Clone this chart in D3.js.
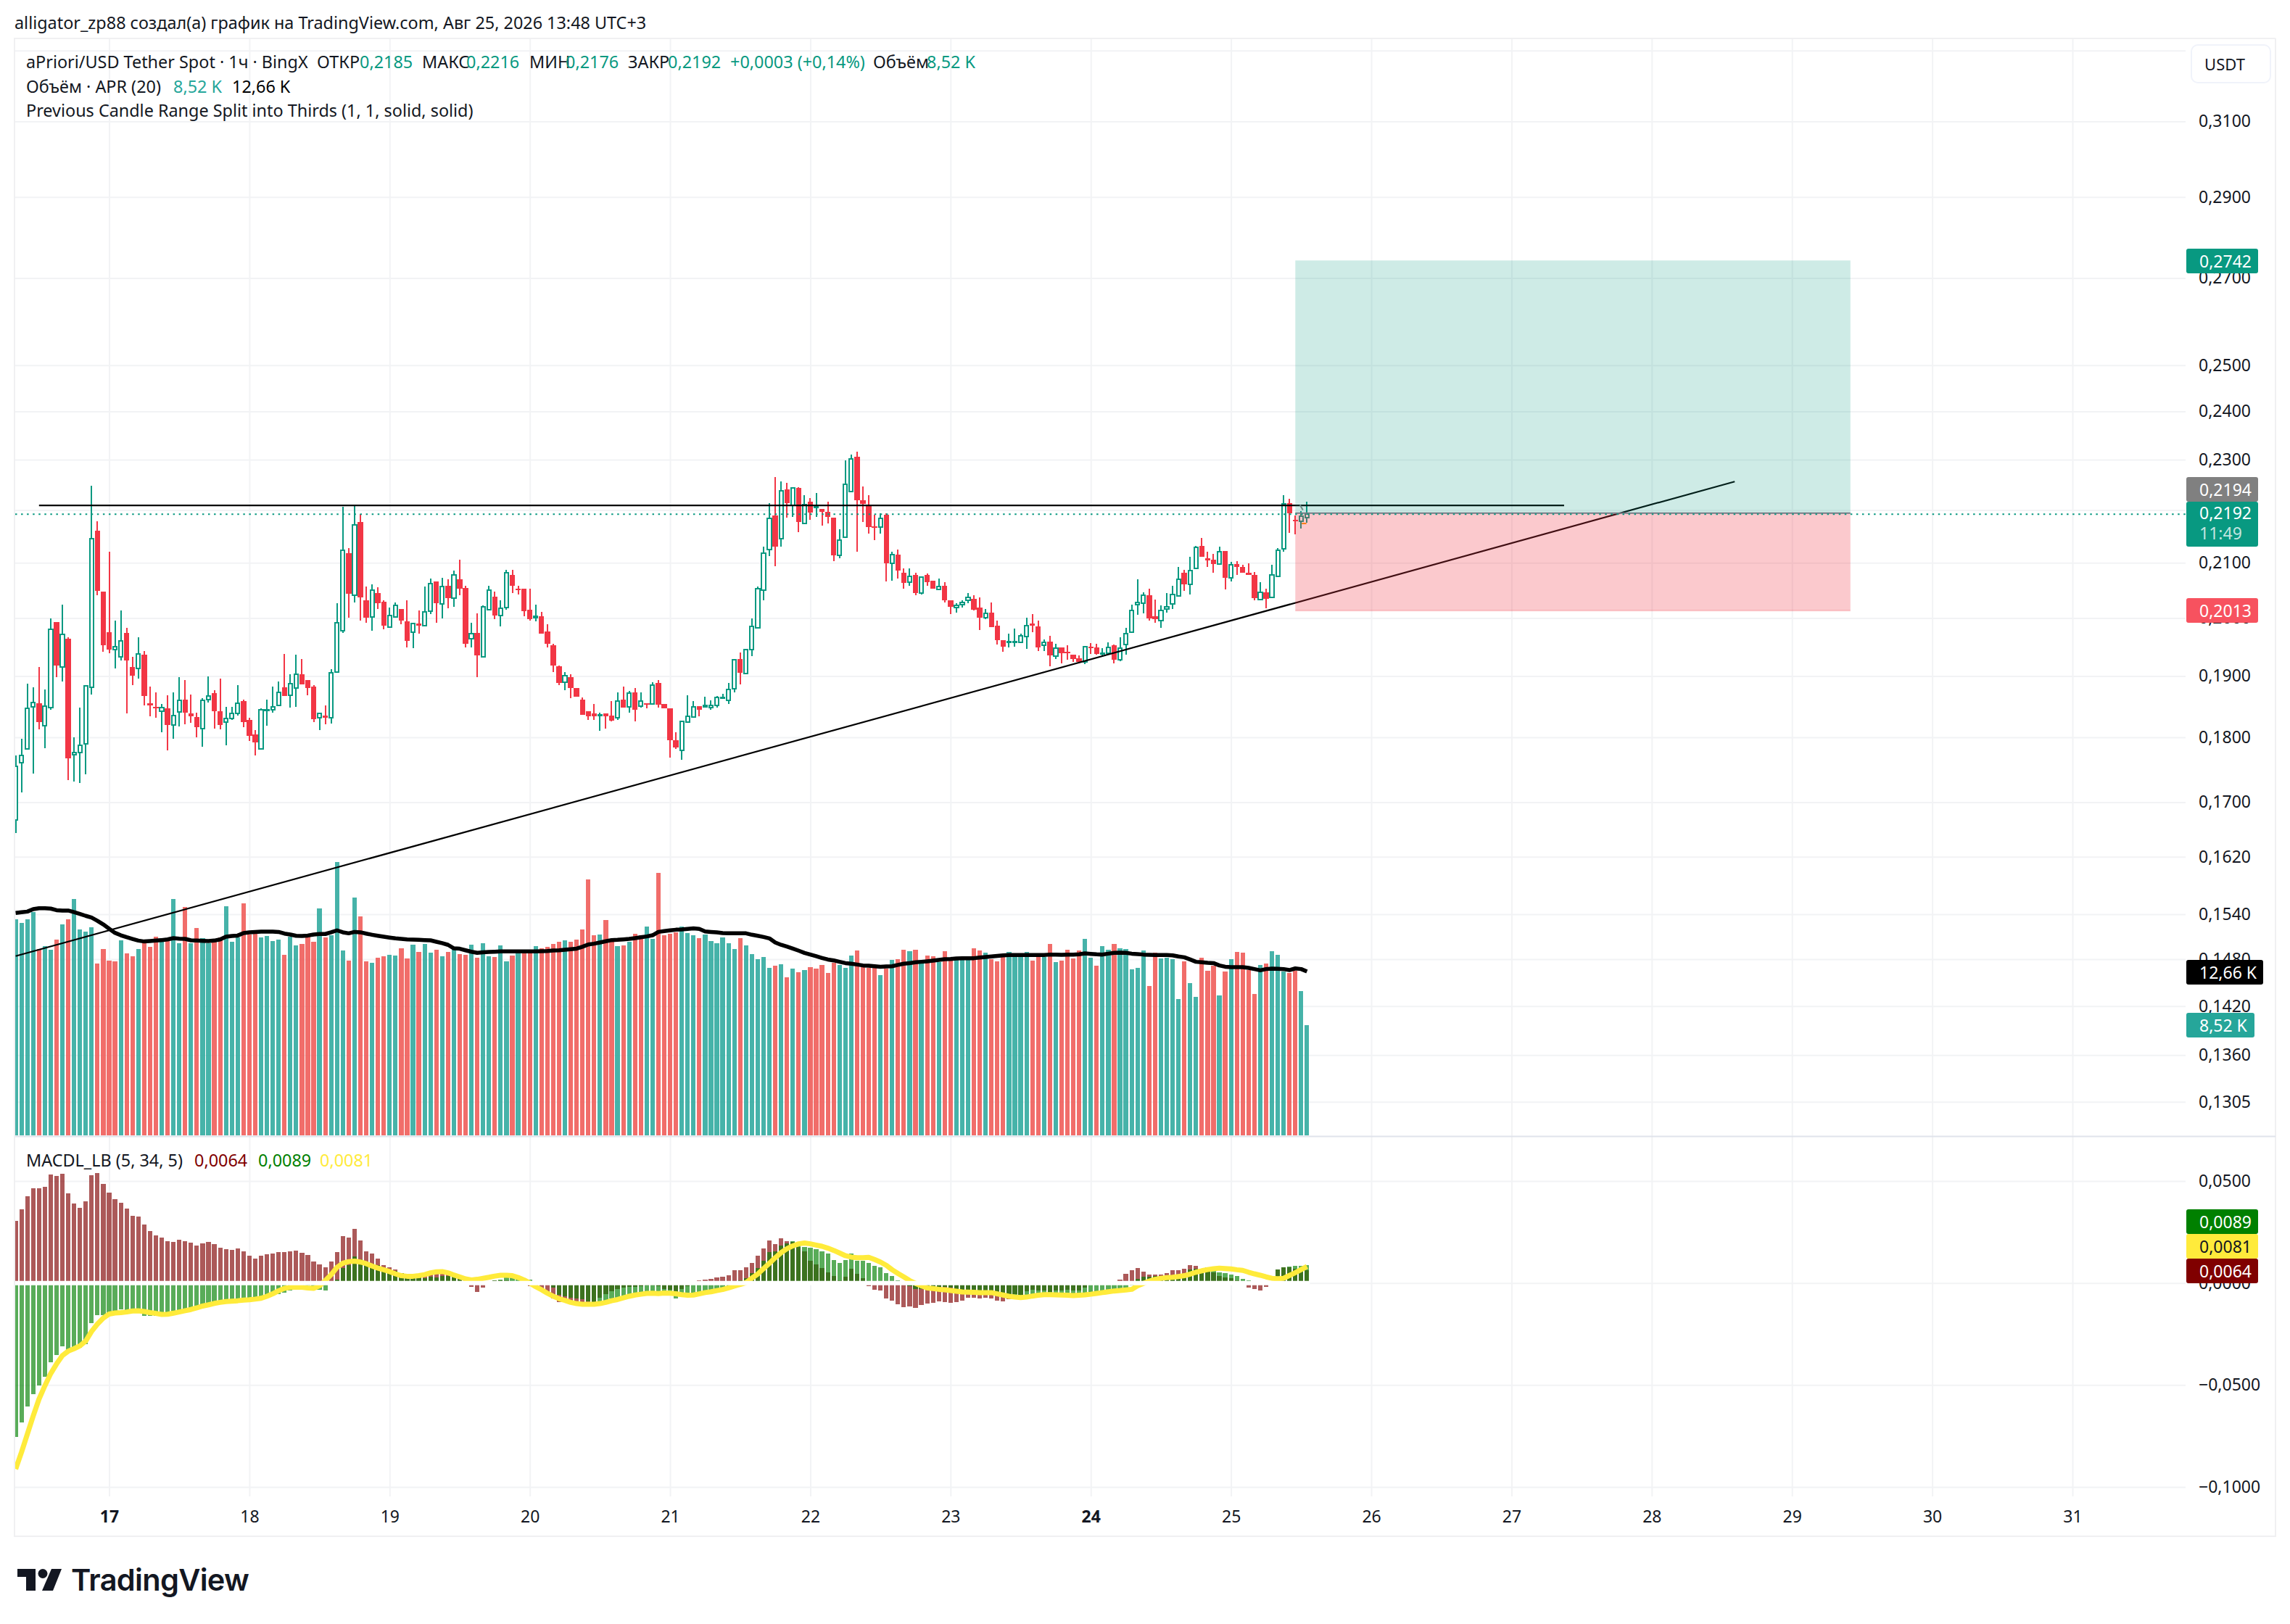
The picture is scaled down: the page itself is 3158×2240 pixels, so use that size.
<!DOCTYPE html>
<html><head><meta charset="utf-8"><title>aPriori/USDT</title>
<script src="https://d3js.org/d3.v7.min.js"></script>
<style>html,body{margin:0;padding:0;background:#fff;overflow:hidden}svg{display:block}</style>
</head><body><svg id="c" width="3158" height="2240" viewBox="0 0 3158 2240"></svg>
<script>
// ---- Candles, in ten-thousandths of USDT, one value per hourly bar
const opens=[1673,1760,1782,1849,1855,1819,1848,1993,1915,1964,
1773,1776,1790,1881,2160,2047,1975,1945,1933,1974,
1915,1913,1936,1855,1849,1842,1847,1820,1841,1861,
1839,1833,1814,1861,1872,1842,1824,1830,1838,1859,
1828,1805,1782,1843,1844,1851,1881,1868,1880,1903,
1893,1883,1831,1835,1832,1907,1978,2118,2041,2177,
2032,2002,2045,2029,1984,2002,2016,1994,1975,1990,
1987,2012,2066,2025,2058,2035,2070,2054,1964,1974,
1932,2015,2038,2005,2019,2078,2052,2052,2015,2000,
2003,1977,1952,1917,1890,1898,1880,1861,1842,1839,
1835,1838,1835,1831,1861,1849,1873,1850,1855,1854,
1889,1854,1847,1796,1780,1825,1833,1850,1849,1848,
1851,1863,1860,1879,1929,1904,1945,1983,2050,2124,
2190,2145,2240,2209,2243,2174,2216,2205,2202,2196,
2185,2114,2148,2236,2306,2219,2209,2168,2167,2191,
2099,2115,2081,2064,2077,2045,2077,2067,2051,2058,
2032,2019,2024,2032,2034,2019,2000,2010,1986,1961,
1958,1958,1957,1968,1990,1985,1952,1959,1934,1949,
1941,1936,1930,1924,1950,1949,1938,1939,1952,1928,
1954,1975,2024,2026,2041,2003,1995,2016,2025,2039,
2081,2060,2090,2131,2108,2105,2097,2122,2072,2097,
2092,2082,2077,2033,2046,2037,2075,2126,2213,2181,
2178,2185];
const highs=[1772,1798,1887,1881,1915,1878,1999,1993,2024,1966,
1800,1848,1884,2247,2178,2047,2121,1996,2013,1983,
1932,1966,1942,1883,1873,1854,1868,1873,1898,1893,
1869,1840,1863,1899,1877,1896,1849,1849,1885,1861,
1831,1812,1847,1861,1883,1891,1938,1903,1936,1929,
1893,1885,1838,1851,1912,2026,2206,2127,2210,2192,
2056,2060,2055,2032,2018,2028,2016,2032,1990,2013,
2056,2071,2066,2072,2070,2085,2105,2058,1991,2008,
2022,2058,2047,2032,2087,2087,2058,2052,2052,2024,
2011,1989,1955,1918,1907,1903,1880,1865,1842,1854,
1840,1838,1859,1873,1883,1875,1880,1873,1855,1890,
1893,1854,1847,1808,1827,1868,1859,1850,1866,1860,
1867,1870,1889,1928,1940,1945,1999,2056,2130,2213,
2265,2256,2253,2245,2245,2229,2223,2233,2202,2216,
2185,2163,2299,2310,2316,2246,2229,2191,2194,2194,
2121,2125,2090,2090,2082,2073,2080,2067,2071,2064,
2032,2026,2032,2045,2040,2037,2016,2028,1995,1961,
1973,1981,1973,2000,2007,1996,1963,1969,1955,1949,
1953,1936,1935,1950,1956,1955,1947,1958,1954,1966,
1983,2024,2069,2046,2052,2033,2022,2045,2058,2092,
2087,2111,2131,2146,2120,2116,2130,2122,2101,2103,
2096,2099,2083,2064,2052,2096,2127,2229,2222,2190,
2198,2216];
const lows=[1654,1715,1782,1743,1813,1783,1844,1898,1891,1733,
1731,1729,1742,1869,2041,1941,1939,1913,1927,1838,
1885,1896,1851,1834,1831,1808,1780,1798,1818,1821,
1823,1800,1785,1856,1814,1813,1788,1828,1835,1816,
1794,1771,1782,1819,1840,1851,1867,1848,1849,1886,
1868,1824,1812,1821,1822,1907,1974,2000,2028,1996,
1991,1978,2016,1980,1984,2002,1989,1949,1947,1973,
1987,2007,1991,1999,2017,2020,2041,1949,1949,1898,
1932,2015,1998,1985,2015,2045,2042,2003,1996,1994,
1973,1949,1907,1885,1877,1863,1866,1836,1828,1828,
1810,1814,1826,1828,1848,1840,1826,1848,1847,1854,
1848,1847,1768,1782,1765,1825,1833,1834,1849,1845,
1848,1863,1854,1873,1886,1904,1934,1983,2032,2112,
2094,2130,2185,2187,2157,2173,2181,2187,2170,2174,
2103,2108,2146,2236,2121,2177,2155,2142,2155,2066,
2067,2071,2052,2058,2040,2042,2058,2052,2050,2028,
2007,2010,2019,2026,2014,1979,1998,1984,1954,1941,
1949,1950,1957,1946,1975,1943,1943,1917,1929,1921,
1928,1924,1922,1920,1938,1936,1933,1939,1922,1925,
1936,1975,2006,2008,1996,1991,1983,2010,2016,2038,
2048,2042,2090,2111,2092,2082,2097,2051,2065,2078,
2082,2078,2032,2033,2017,2035,2074,2121,2156,2153,
2165,2176];
const closes=[1755,1771,1847,1856,1824,1850,1980,1918,1971,1767,
1776,1788,1884,2145,2049,1953,1945,1950,1960,1926,
1901,1938,1867,1851,1847,1848,1820,1835,1860,1840,
1834,1816,1860,1867,1842,1820,1830,1838,1855,1825,
1802,1792,1844,1845,1849,1873,1867,1887,1903,1886,
1880,1829,1838,1832,1905,1991,2123,2043,2171,2037,
2000,2050,2026,1986,2004,2022,1995,1960,1990,1986,
2011,2062,2026,2056,2035,2078,2052,1955,1973,1935,
2020,2050,2005,2017,2081,2058,2050,2012,1998,2003,
1973,1955,1918,1889,1901,1880,1866,1836,1834,1834,
1836,1834,1827,1859,1848,1872,1845,1859,1853,1885,
1853,1847,1796,1784,1826,1834,1849,1844,1851,1851,
1865,1865,1878,1928,1905,1945,1985,2052,2118,2184,
2130,2237,2213,2243,2177,2211,2195,2206,2196,2187,
2114,2143,2251,2302,2219,2212,2167,2166,2184,2099,
2115,2085,2063,2075,2045,2073,2064,2052,2056,2032,
2020,2022,2028,2037,2015,2000,2008,1984,1961,1950,
1959,1959,1969,1987,1987,1949,1958,1935,1948,1939,
1939,1929,1924,1950,1949,1938,1939,1949,1928,1948,
1973,2013,2028,2041,1999,1998,2013,2020,2042,2069,
2060,2086,2129,2111,2104,2097,2120,2072,2096,2092,
2082,2078,2035,2046,2034,2077,2123,2212,2194,2178,
2188,2192];
// ---- Volume, in thousands, and its 20-bar average
const volumes=[16.69,16.41,16.69,17.27,14.38,14.60,14.34,15.13,16.30,16.69,
18.26,15.91,15.74,16.08,13.28,14.40,13.50,13.45,15.07,14.06,
13.84,14.40,14.96,14.57,15.35,15.24,15.01,18.26,14.85,17.65,
14.85,16.02,15.24,14.85,15.18,15.29,17.70,14.96,15.28,17.93,
15.50,15.56,15.29,15.41,15.01,15.13,13.95,15.35,14.68,14.79,
15.37,14.96,17.53,15.28,15.46,21.12,14.29,13.50,18.38,16.92,
13.45,13.33,13.73,13.84,13.95,13.89,14.45,13.67,14.73,14.17,
14.79,14.12,14.34,13.84,14.17,14.53,14.01,13.95,14.73,13.73,
14.85,13.84,13.78,14.68,13.45,13.89,14.16,14.16,14.16,14.62,
14.45,14.57,14.79,14.96,15.07,14.96,15.13,15.91,19.78,15.46,
15.52,16.64,15.01,14.62,14.68,14.96,15.57,15.46,16.13,15.18,
20.28,15.46,15.57,15.69,16.12,15.63,15.46,15.24,15.52,15.01,
14.85,15.29,14.85,14.40,15.24,14.68,14.01,13.61,13.78,12.94,
13.11,13.22,12.21,12.89,12.61,12.77,13.00,12.89,13.17,12.55,
13.33,13.17,12.94,13.89,14.29,13.00,12.94,12.94,12.38,12.89,
13.56,13.61,14.34,14.23,14.34,13.31,13.89,13.84,13.41,14.23,
13.69,13.69,13.59,13.69,14.45,14.29,14.12,13.63,13.45,13.78,
14.17,13.97,13.97,14.17,13.50,13.78,13.78,14.79,13.39,13.50,
14.34,13.67,14.29,15.18,13.73,13.11,14.62,14.34,14.79,14.45,
14.40,12.83,12.94,14.29,11.54,14.12,13.67,13.73,13.61,10.53,
13.45,11.76,10.70,13.73,12.72,13.11,10.81,12.66,13.61,14.17,
14.12,12.75,10.92,13.17,13.28,14.23,13.95,12.66,12.57,12.72,
11.15,8.52];
const volumeSides=("ggggrggrgr"+"ggggrrrrgr"+"rgrrrgrggr"+"grggrrgggr"+"rrggggrggr"+"rrgrgggrgr"+"rgrrggrrgr"+"ggrgrgrrgr"+"ggrggrgrrg"+"rrrrgrrrrr"+"grrgrgrrgg"
+"rrrrgggrgg"+"ggggrggggg"+"rgrgrgrrrr"+"rgggrrrrgr"+"grrgrgrrgr"+"rgggrrgrrr"+"ggggrrgrgr"+"rrrggrggrg"+"ggggrrgggg"+"rggrrrgrgr"+"rrrgrgggrr"+"gg").split("");
const volumeAverage=[17.18,17.24,17.29,17.48,17.55,17.55,17.52,17.40,17.37,17.37,
17.25,17.11,16.96,16.83,16.58,16.30,15.97,15.65,15.46,15.31,
15.18,15.05,14.98,15.01,15.05,15.09,15.14,15.24,15.20,15.18,
15.07,15.05,15.03,15.01,15.05,15.14,15.35,15.41,15.44,15.63,
15.69,15.72,15.74,15.74,15.74,15.72,15.59,15.52,15.42,15.41,
15.44,15.52,15.56,15.56,15.69,15.84,15.69,15.61,15.72,15.69,
15.59,15.50,15.42,15.35,15.28,15.22,15.18,15.14,15.13,15.11,
15.09,15.07,14.96,14.85,14.72,14.45,14.42,14.30,14.19,14.10,
14.14,14.17,14.19,14.21,14.21,14.21,14.21,14.21,14.21,14.21,
14.23,14.25,14.29,14.30,14.34,14.38,14.43,14.57,14.75,14.81,
14.90,15.00,15.09,15.11,15.14,15.18,15.24,15.31,15.37,15.46,
15.72,15.78,15.84,15.89,15.91,15.95,15.99,15.95,15.76,15.72,
15.69,15.63,15.61,15.61,15.61,15.61,15.50,15.42,15.33,15.22,
14.90,14.72,14.58,14.43,14.27,14.10,13.97,13.84,13.71,13.59,
13.52,13.41,13.31,13.26,13.20,13.13,13.11,13.07,13.03,13.05,
13.07,13.17,13.26,13.31,13.37,13.41,13.45,13.50,13.56,13.61,
13.63,13.67,13.69,13.69,13.69,13.74,13.78,13.82,13.86,13.91,
13.93,13.93,13.93,13.93,13.93,13.93,13.93,13.97,13.97,13.95,
13.97,13.97,13.99,14.06,14.02,13.99,13.97,14.04,14.10,14.12,
14.10,14.04,14.01,13.97,13.95,13.93,13.93,13.93,13.91,13.82,
13.76,13.59,13.41,13.37,13.33,13.31,13.13,13.03,13.00,13.00,
13.00,12.94,12.85,12.75,12.85,12.89,12.87,12.85,12.77,12.90,
12.85,12.66];
// ---- MACDL_LB, in ten-thousandths
const macdMaroon=[306,363,427,466,466,473,533,526,537,441,
391,370,402,530,540,487,444,412,395,366,
331,327,288,256,235,224,206,203,213,206,
199,185,196,203,192,174,167,164,171,156,
135,121,135,142,146,153,153,156,160,149,
139,107,92,78,107,153,231,224,267,210,
156,146,121,89,77,65,47,30,36,30,
36,57,47,60,41,38,24,0,-20,-45,
-21,6,12,12,12,6,6,2,-14,-21,
-39,-53,-75,-92,-92,-96,-96,-107,-102,-100,
-71,-53,-41,-30,-21,-18,-18,-14,-12,-12,
-14,-30,-33,-47,-30,-14,-9,14,18,21,
28,32,39,64,64,78,100,135,171,210,
192,220,206,201,178,154,110,92,75,53,
36,12,32,71,46,25,-14,-32,-36,-75,
-85,-103,-117,-114,-121,-107,-100,-96,-89,-92,
-96,-92,-85,-71,-71,-75,-71,-75,-85,-89,
-81,-53,-57,-41,-33,-38,-38,-44,-36,-38,
-33,-36,-36,-21,0,0,0,0,0,18,
46,64,75,57,43,43,43,50,64,64,
71,89,85,65,59,53,36,26,24,12,
6,-21,-28,-36,-18,0,66,78,76,71,
65,64];
const macdGreen=[-754,-683,-604,-544,-501,-459,-388,-352,-309,-334,
-324,-316,-299,-196,-156,-156,-153,-142,-130,-136,
-142,-148,-160,-160,-160,-154,-148,-142,-140,-136,
-133,-130,-119,-113,-104,-100,-95,-89,-85,-81,
-77,-73,-71,-69,-59,-53,-47,-36,-24,-14,
-12,-24,-33,-36,0,18,75,89,132,117,
107,95,87,68,62,59,50,32,28,26,
24,30,27,33,36,39,39,30,14,-6,
-6,2,12,18,36,33,30,21,17,6,
0,-4,-24,-59,-65,-71,-77,-81,-89,-95,
-101,-95,-77,-81,-77,-71,-65,-59,-53,-47,
-47,-41,-53,-75,-59,-53,-53,-47,-41,-36,
-30,-24,-14,0,12,24,47,73,110,150,
156,185,196,206,190,178,174,167,156,146,
114,100,114,146,110,110,100,85,78,50,
36,14,0,-14,-28,-30,-30,-24,-18,-18,
-21,-30,-38,-44,-47,-47,-47,-47,-53,-59,
-59,-65,-71,-71,-65,-59,-53,-53,-57,-59,
-59,-59,-59,-59,-53,-50,-47,-45,-41,-36,
-24,-12,21,30,30,36,36,36,38,21,
30,65,71,65,77,77,53,47,41,36,
21,12,6,6,6,0,66,78,82,85,
83,89];
const macdSignal=[-912,-830,-741,-652,-569,-504,-444,-397,-356,-334,
-322,-308,-284,-237,-201,-172,-152,-147,-145,-142,
-137,-136,-140,-145,-149,-154,-153,-148,-142,-136,
-130,-122,-113,-107,-100,-95,-91,-89,-87,-84,
-82,-79,-75,-65,-53,-38,-26,-21,-20,-21,
-24,-26,-14,12,41,77,97,105,107,103,
95,83,73,65,56,45,36,33,33,36,
41,50,55,56,50,39,30,20,15,18,
23,28,34,38,38,36,27,15,0,-18,
-33,-50,-65,-77,-85,-95,-101,-104,-104,-104,
-101,-95,-87,-81,-73,-65,-59,-55,-51,-50,
-52,-49,-50,-53,-57,-60,-59,-53,-47,-43,
-37,-32,-24,-15,-7,2,24,44,71,97,
124,149,168,182,192,196,192,186,180,171,
160,147,134,127,124,124,126,115,103,87,
65,47,30,12,-2,-14,-24,-27,-31,-33,
-37,-40,-44,-45,-46,-47,-47,-47,-53,-59,
-65,-69,-71,-69,-64,-60,-57,-57,-58,-59,
-60,-62,-60,-58,-55,-51,-47,-43,-39,-37,
-34,-31,-14,-2,9,18,23,26,28,32,
36,44,53,60,66,70,73,71,69,65,
62,53,45,38,30,23,21,23,37,51,
66,81];
// ---- Axis labels and drawing levels
const priceTicks=[0.33,0.31,0.29,0.27,0.25,0.24,0.23,0.22,0.21,0.20,0.19,0.18,0.17,0.162,0.154,0.148,0.142,0.136,0.1305];
const macdTicks=[0.05,0,-0.05,-0.1];
const dayLabels=[17,18,19,20,21,22,23,24,25,26,27,28,29,30,31];
const boldDays=[17,24];
const resistance={price:0.2209,from:4,to:265};
const trend={fromBar:0,fromPrice:0.1484,toBar:294.2,toPrice:0.2256};
const position={fromBar:219,toBar:314,target:0.2742,entry:0.2194,stop:0.2013};
const lastPrice=0.2192;

// ---- Scales
const C={g:"#089981",r:"#f23645",vg:"#26a69a",vr:"#ef5350",grid:"#f2f3f5",ink:"#131722",border:"#f0f0f2"};
const FONT='"Noto Sans",sans-serif';
const pane={l:21,r:3014,t:54,b:1567,mt:1568,mb:2064,right:3138,bottom:2119};
const n=closes.length, bars=d3.range(n);
const x=d3.scaleLinear().domain([16,352]).range([150.5,2858]);
const y=d3.scaleLog().domain([0.23,0.18]).range([634,1017.1]);
const yVol=d3.scaleLinear().domain([0,20]).range([1566,1209]);
const yMacd=d3.scaleLinear().domain([-0.1,0.05]).range([2051,1629]);
const pip=v=>v/1e4;
const loc=d3.formatLocale({decimal:",",thousands:" ",grouping:[3],currency:["",""],minus:"\u2212"});
const f4=loc.format(".4f");

const svg=d3.select("#c").style("font-family",FONT);
svg.append("rect").attr("width",3158).attr("height",2240).attr("fill","#fff");
const defs=svg.append("defs");
defs.append("clipPath").attr("id","main").append("rect").attr("x",pane.l).attr("y",pane.t).attr("width",pane.r-pane.l).attr("height",pane.b-pane.t);
defs.append("clipPath").attr("id","macd").append("rect").attr("x",pane.l).attr("y",pane.mt).attr("width",pane.r-pane.l).attr("height",pane.mb-pane.mt);

// ---- Grids
function hGrid(scale,ticks){
  const g=svg.append("g").attr("transform",`translate(${pane.r},0)`)
    .call(d3.axisLeft(scale).tickValues(ticks).tickSize(pane.r-pane.l).tickFormat(""));
  g.select(".domain").remove();
  g.selectAll("line").attr("stroke",C.grid).attr("stroke-width",2);
}
hGrid(y,priceTicks);
hGrid(yMacd,macdTicks);
const vg=svg.append("g").attr("transform",`translate(0,${pane.t})`)
  .call(d3.axisBottom(x).tickValues(dayLabels.map((d,k)=>16+24*k)).tickSize(pane.mb-pane.t).tickFormat(""));
vg.select(".domain").remove();
vg.selectAll("line").attr("stroke",C.grid).attr("stroke-width",2);

// ---- Frame
const frame=svg.append("g").attr("stroke",C.border).attr("stroke-width",2).attr("fill","none");
frame.append("path").attr("d",d3.line()([[pane.right,pane.t-1],[20,pane.t-1],[20,pane.bottom],[pane.right,pane.bottom],[pane.right,pane.t-1]]));
svg.append("line").attr("x1",pane.l).attr("x2",pane.right).attr("y1",1567.5).attr("y2",1567.5).attr("stroke","#e0e3eb").attr("stroke-width",2);

// ---- Main pane
const main=svg.append("g").attr("clip-path","url(#main)");
const volW=6.2;
main.append("g").attr("shape-rendering","crispEdges").selectAll("rect").data(bars).join("rect")
  .attr("x",i=>x(i)-volW/2).attr("width",volW)
  .attr("y",i=>yVol(volumes[i])).attr("height",i=>yVol(0)-yVol(volumes[i]))
  .attr("fill",i=>volumeSides[i]==="g"?C.vg:C.vr).attr("fill-opacity",.85);
main.append("path").datum(bars).attr("fill","none").attr("stroke","#000").attr("stroke-width",5.5).attr("stroke-linejoin","round")
  .attr("d",d3.line().x(i=>x(i)).y(i=>yVol(volumeAverage[i])));
const up=i=>closes[i]>=opens[i];
const col=i=>up(i)?C.g:C.r;
const cg=main.append("g").attr("shape-rendering","crispEdges");
cg.selectAll("line").data(bars).join("line")
  .attr("x1",i=>x(i)).attr("x2",i=>x(i))
  .attr("y1",i=>y(pip(highs[i]))).attr("y2",i=>y(pip(lows[i])))
  .attr("stroke",col).attr("stroke-width",2);
cg.selectAll("rect").data(bars).join("rect")
  .attr("x",i=>up(i)?x(i)-2.6:x(i)-3.7).attr("width",i=>up(i)?5.2:7.4)
  .attr("y",i=>y(pip(Math.max(opens[i],closes[i]))))
  .attr("height",i=>Math.max(Math.abs(y(pip(opens[i]))-y(pip(closes[i]))),up(i)?1:2))
  .attr("fill",i=>up(i)?"#fff":C.r).attr("stroke",i=>up(i)?C.g:"none").attr("stroke-width",2);
const tr=d3.line().x(d=>x(d[0])).y(d=>y(d[1]));
main.append("path").attr("fill","none").attr("stroke","#000").attr("stroke-width",2.2)
  .attr("d",tr([[trend.fromBar,trend.fromPrice],[trend.toBar,trend.toPrice]]));
main.append("path").attr("fill","none").attr("stroke","#000").attr("stroke-width",2.2)
  .attr("d",tr([[resistance.from,resistance.price],[resistance.to,resistance.price]]));
main.append("path").attr("fill","none").attr("stroke","#ff9800").attr("stroke-width",2)
  .attr("d",tr([[220.1,0.2174],[220.9,0.2174]]));
main.append("path").attr("fill","none").attr("stroke","#888").attr("stroke-width",2)
  .attr("d",tr([[219.8,0.2210],[220.3,0.2200]]));
// position tool
const bx=x(position.fromBar), bw=x(position.toBar)-bx;
main.append("rect").attr("x",bx).attr("width",bw).attr("y",y(position.target)).attr("height",y(position.entry)-y(position.target)).attr("fill","#089981").attr("fill-opacity",.2);
main.append("rect").attr("x",bx).attr("width",bw).attr("y",y(position.entry)).attr("height",y(position.stop)-y(position.entry)).attr("fill","#f23645").attr("fill-opacity",.27);
main.append("path").attr("fill","none").attr("stroke","#787b86").attr("stroke-width",2)
  .attr("d",tr([[position.fromBar,position.entry],[position.toBar,position.entry]]));
main.append("path").attr("fill","none").attr("stroke","#f23645").attr("stroke-opacity",.2).attr("stroke-width",2)
  .attr("d",tr([[position.fromBar,position.stop],[position.toBar,position.stop]]));
// last price line
svg.append("line").attr("x1",pane.l).attr("x2",pane.r).attr("y1",y(lastPrice)).attr("y2",y(lastPrice))
  .attr("stroke",C.g).attr("stroke-width",2).attr("stroke-dasharray","2.5 5.56");

// ---- MACD pane
const mp=svg.append("g").attr("clip-path","url(#macd)");
function hist(arr,color){
  mp.append("g").attr("shape-rendering","crispEdges").selectAll("rect").data(bars).join("rect")
    .attr("x",i=>x(i)-volW/2).attr("width",volW)
    .attr("y",i=>Math.min(yMacd(0),yMacd(pip(arr[i]))))
    .attr("height",i=>Math.abs(yMacd(0)-yMacd(pip(arr[i]))))
    .attr("fill",color).attr("fill-opacity",.65);
}
hist(macdMaroon,"#800000");
hist(macdGreen,"#008000");
mp.append("path").datum(bars).attr("fill","none").attr("stroke","#ffeb3b").attr("stroke-width",7).attr("stroke-linejoin","round")
  .attr("d",d3.line().x(i=>x(i)).y(i=>yMacd(pip(macdSignal[i]))));
mp.append("line").attr("x1",pane.l).attr("x2",x(n-1)+4).attr("y1",yMacd(0)).attr("y2",yMacd(0)).attr("stroke","#fff").attr("stroke-width",6);

// ---- Axes
const AX=23, LEG=23.4;
function styleAxis(g){g.select(".domain").remove();g.selectAll("text").attr("fill",C.ink).attr("font-size",AX).attr("font-family",FONT);}
svg.append("g").attr("transform",`translate(${pane.r},0)`)
  .call(d3.axisRight(y).tickValues(priceTicks).tickSize(0).tickPadding(18).tickFormat(f4)).call(styleAxis);
svg.append("g").attr("transform",`translate(${pane.r},0)`)
  .call(d3.axisRight(yMacd).tickValues(macdTicks).tickSize(0).tickPadding(18).tickFormat(f4)).call(styleAxis);
const ta=svg.append("g").attr("transform",`translate(0,${pane.mb})`)
  .call(d3.axisBottom(x).tickValues(dayLabels.map((d,k)=>16+24*k)).tickSize(0).tickPadding(20).tickFormat((d,k)=>dayLabels[k])).call(styleAxis);
ta.selectAll("text").attr("font-weight",(d,k)=>boldDays.includes(dayLabels[k])?700:400);

// ---- Text helper
function T(s,px,py,fill,opt={}){
  return svg.append("text").attr("x",px).attr("y",py).attr("fill",fill||C.ink)
    .attr("font-size",opt.size||AX).attr("font-weight",opt.w||400).attr("text-anchor",opt.a||"start")
    .attr("dominant-baseline","central").attr("fill-opacity",opt.o||1).text(s);
}
const L=(s,px,py,fill)=>T(s,px,py,fill,{size:LEG});
// ---- Badges
function badge(x1,x2,y1,y2,fill){
  svg.append("rect").attr("x",x1).attr("y",y1).attr("width",x2-x1).attr("height",y2-y1).attr("rx",3).attr("fill",fill);
}
const bText=(s,py,fill,o)=>T(s,3033,py,fill,{o});
svg.append("rect").attr("x",3022).attr("y",62).attr("width",109).attr("height",52).attr("rx",9).attr("fill","#fff").attr("stroke","#f0f3fa").attr("stroke-width",2);
T("USDT",3068,88,C.ink,{a:"middle",size:22});
badge(3015,3114,343,377,"#089981"); bText(f4(position.target),360,"#fff");
badge(3015,3114,658,692,"#808080"); bText(f4(position.entry),675,"#fff");
badge(3015,3114,692,754,"#089981"); bText(f4(lastPrice),707,"#fff"); bText("11:49",735,"#fff",.75);
badge(3015,3114,825,859,"#f7525f"); bText(f4(position.stop),842,"#fff");
badge(3015,3121,1324,1358,"#000"); bText("12,66 K",1341,"#fff");
badge(3015,3109,1397,1431,"#26a69a"); bText("8,52 K",1414,"#fff");
badge(3015,3114,1668,1702,"#008000"); bText("0,0089",1685,"#fff");
badge(3015,3114,1702,1736,"#ffeb3b"); bText("0,0081",1719,"#131722");
badge(3015,3114,1736,1770,"#800000"); bText("0,0064",1753,"#fff");

// ---- Legends
L("alligator_zp88 создал(а) график на TradingView.com, Авг 25, 2026 13:48 UTC+3",20,31);
const G=C.g;
[["aPriori/USD Tether Spot · 1ч · BingX",36],["ОТКР",437],["МАКС",582],["МИН",730],["ЗАКР",866],["Объём",1204]].forEach(d=>L(d[0],d[1],85));
[["0,2185",496],["0,2216",643],["0,2176",780],["0,2192",921],["+0,0003 (+0,14%)",1007],["8,52 K",1278]].forEach(d=>L(d[0],d[1],85,G));
L("Объём · APR (20)",36,119); L("8,52 K",239,119,"#26a69a"); L("12,66 K",320,119,"#000");
L("Previous Candle Range Split into Thirds (1, 1, solid, solid)",36,152);
L("MACDL_LB (5, 34, 5)",36,1600); L("0,0064",268,1600,"#800000"); L("0,0089",356,1600,"#008000"); L("0,0081",441,1600,"#ffeb3b");

// ---- Logo
const logo=svg.append("g").attr("fill","#131722");
logo.append("path").attr("d","M24 2164H49V2194H36V2175H24Z");
logo.append("circle").attr("cx",59).attr("cy",2170.5).attr("r",6.5);
logo.append("path").attr("d","M71 2164H85L73 2194H58Z");
svg.append("text").attr("x",98).attr("y",2194).attr("fill","#131722").attr("font-family","Inter,sans-serif").attr("font-weight",600).attr("font-size",41.5).attr("letter-spacing",-0.7).text("TradingView");
</script></body></html>
